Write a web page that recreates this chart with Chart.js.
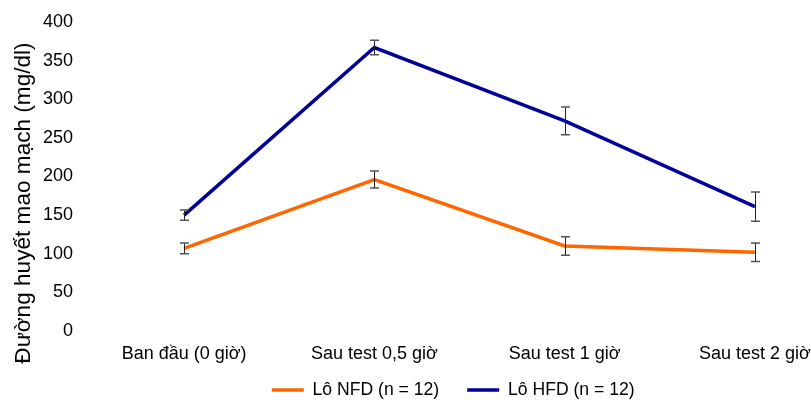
<!DOCTYPE html>
<html>
<head>
<meta charset="utf-8">
<script src="https://cdn.jsdelivr.net/npm/chart.js@4"></script>
<style>
html,body{margin:0;padding:0;background:#fff;overflow:hidden;width:811px;height:400px;}
canvas{display:block;}
</style>
</head>
<body>
<canvas id="c" width="860" height="400"></canvas>
<script>
const categories = ["Ban đầu (0 giờ)", "Sau test 0,5 giờ", "Sau test 1 giờ", "Sau test 2 giờ"];
const nfdValues = [107, 196, 110, 102];
const nfdErrors = [7, 11, 12, 12];
const hfdValues = [150, 367, 272, 161];
const hfdErrors = [6.5, 9.5, 18, 19];
const seriesNames = ["Lô NFD (n = 12)", "Lô HFD (n = 12)"];
const yTicks = [0, 50, 100, 150, 200, 250, 300, 350, 400];
const yTitle = "Đường huyết mao mạch (mg/dl)";

const colors = ["#FF6600", "#000099"];
const errors = [nfdErrors, hfdErrors];

const errorBars = {
  id: 'errorBars',
  afterDatasetsDraw(chart) {
    const ctx = chart.ctx;
    const ys = chart.scales.y;
    chart.data.datasets.forEach((ds, i) => {
      const meta = chart.getDatasetMeta(i);
      meta.data.forEach((pt, j) => {
        const v = ds.data[j], e = errors[i][j];
        const x = Math.round(pt.x) + 0.5;
        const yt = ys.getPixelForValue(v + e);
        const yb = ys.getPixelForValue(v - e);
        ctx.save();
        ctx.strokeStyle = '#222';
        ctx.lineWidth = 1;
        ctx.beginPath();
        ctx.moveTo(x, yt); ctx.lineTo(x, yb);
        ctx.stroke();
        ctx.strokeStyle = '#555';
        ctx.lineWidth = 1.5;
        ctx.beginPath();
        ctx.moveTo(x - 4.5, yt); ctx.lineTo(x + 4.5, yt);
        ctx.moveTo(x - 4.5, yb); ctx.lineTo(x + 4.5, yb);
        ctx.stroke();
        ctx.restore();
      });
    });
  }
};

const layoutTweaks = {
  id: 'layoutTweaks',
  afterLayout(chart) {
    const lg = chart.legend;
    if (lg) {
      lg.left += 24.2; lg.right += 24.2;
      lg.top -= 11.6; lg.bottom -= 11.6;
    }
    const ys = chart.scales.y;
    // centre the rotated axis title where the reference has it
    ys.bottom = 2 * 203 - ys.top;
  }
};

Chart.defaults.font.family = "'Liberation Sans', Arial, sans-serif";
Chart.defaults.color = '#000';

new Chart(document.getElementById('c'), {
  type: 'line',
  data: {
    labels: categories,
    datasets: [
      { label: seriesNames[0], data: nfdValues, borderColor: colors[0], backgroundColor: colors[0], borderWidth: 3.5, pointRadius: 0, tension: 0 },
      { label: seriesNames[1], data: hfdValues, borderColor: colors[1], backgroundColor: colors[1], borderWidth: 3.5, pointRadius: 0, tension: 0 }
    ]
  },
  options: {
    responsive: false,
    animation: false,
    devicePixelRatio: 1,
    layout: { padding: { left: 8, right: 10, top: 22, bottom: -20.4 } },
    scales: {
      x: {
        offset: true,
        grid: { display: false, drawTicks: false },
        border: { display: false },
        ticks: { font: { size: 18 }, padding: 12.2, maxRotation: 0, autoSkip: false },
        afterFit(axis) { axis.height = 33.8; }
      },
      y: {
        min: 0, max: 400,
        afterBuildTicks(axis) { axis.ticks = yTicks.map(v => ({ value: v })); },
        grid: { display: false, drawTicks: false },
        border: { display: false },
        ticks: { font: { size: 18 }, padding: 16 },
        title: { display: true, text: yTitle, font: { size: 22.6 }, padding: { top: 2, bottom: 2 } },
        afterFit(axis) { axis.width = 81; axis.paddingTop = 0; axis.paddingBottom = 0; }
      }
    },
    plugins: {
      tooltip: { enabled: false },
      legend: {
        position: 'bottom',
        labels: {
          font: { size: 17.6 },
          usePointStyle: true,
          pointStyle: 'line',
          pointStyleWidth: 32,
          padding: 28,
          generateLabels(chart) {
            return chart.data.datasets.map((ds, i) => ({
              text: ds.label,
              fillStyle: colors[i],
              strokeStyle: colors[i],
              lineWidth: 3.5,
              pointStyle: 'line',
              datasetIndex: i,
              hidden: false
            }));
          }
        }
      }
    }
  },
  plugins: [errorBars, layoutTweaks]
});
</script>
</body>
</html>
